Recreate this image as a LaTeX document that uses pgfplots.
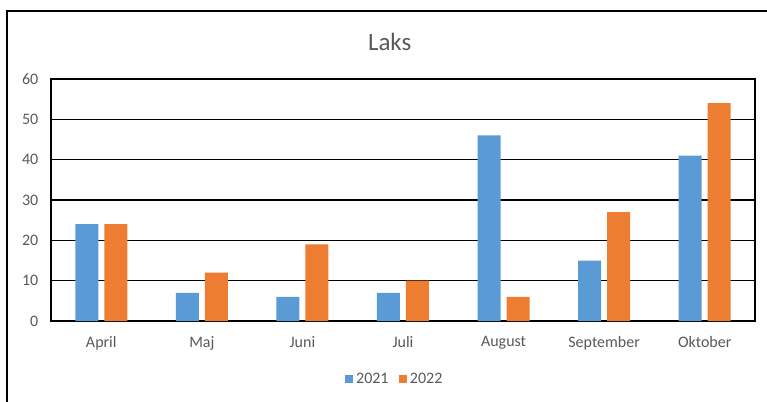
\documentclass[border=0pt]{standalone}
\usepackage{pgfplots}
\pgfplotsset{compat=1.18}
\usepackage{fontspec}
\setmainfont{Carlito}
\definecolor{xblue}{RGB}{91,155,213}
\definecolor{xorange}{RGB}{237,125,49}
\definecolor{txt}{RGB}{89,89,89}
\begin{document}
\begin{tikzpicture}
\path[use as bounding box] (-38.25pt,-60pt) rectangle (537pt,240.75pt);
\begin{axis}[
  scale only axis,
  width=528pt, height=181.5pt,
  at={(0,0)}, anchor=south west,
  ybar=4.5pt, bar width=17.25pt,
  xmin=-0.5, xmax=6.5,
  ymin=0, ymax=60, ytick={0,10,...,60},
  xtick=data,
  xticklabels={April,Maj,Juni,Juli,August,September,Oktober},
  major tick length=0pt,
  ymajorgrids, grid style={black, line width=1pt},
  axis line style={black, line width=1.4pt},
  tick label style={font=\fontsize{12}{14}\selectfont, text=txt},
  /pgf/number format/assume math mode=true,
  yticklabel style={xshift=-6pt},
  xticklabel style={yshift=-8pt},
  legend style={at={(0.489,-0.24)}, anchor=center, draw=none,
    font=\fontsize{12}{14}\selectfont, text=txt, legend columns=2,
    /tikz/every even column/.append style={column sep=6pt}},
  legend image code/.code={\fill[#1] (0pt,-3pt) rectangle (6pt,3pt);},
]
\addplot[fill=xblue, draw=none] coordinates {(0,24) (1,7) (2,6) (3,7) (4,46) (5,15) (6,41)};
\addplot[fill=xorange, draw=none] coordinates {(0,24) (1,12) (2,19) (3,10) (4,6) (5,27) (6,54)};
\legend{2021,2022}
\end{axis}
\node[text=txt, font=\fontsize{18.7}{22}\selectfont] at (254pt,209pt) {Laks};
\draw[black, line width=1.2pt] (-33pt,-80pt) -- (-33pt,232.5pt) -- (560pt,232.5pt);
\end{tikzpicture}
\end{document}
